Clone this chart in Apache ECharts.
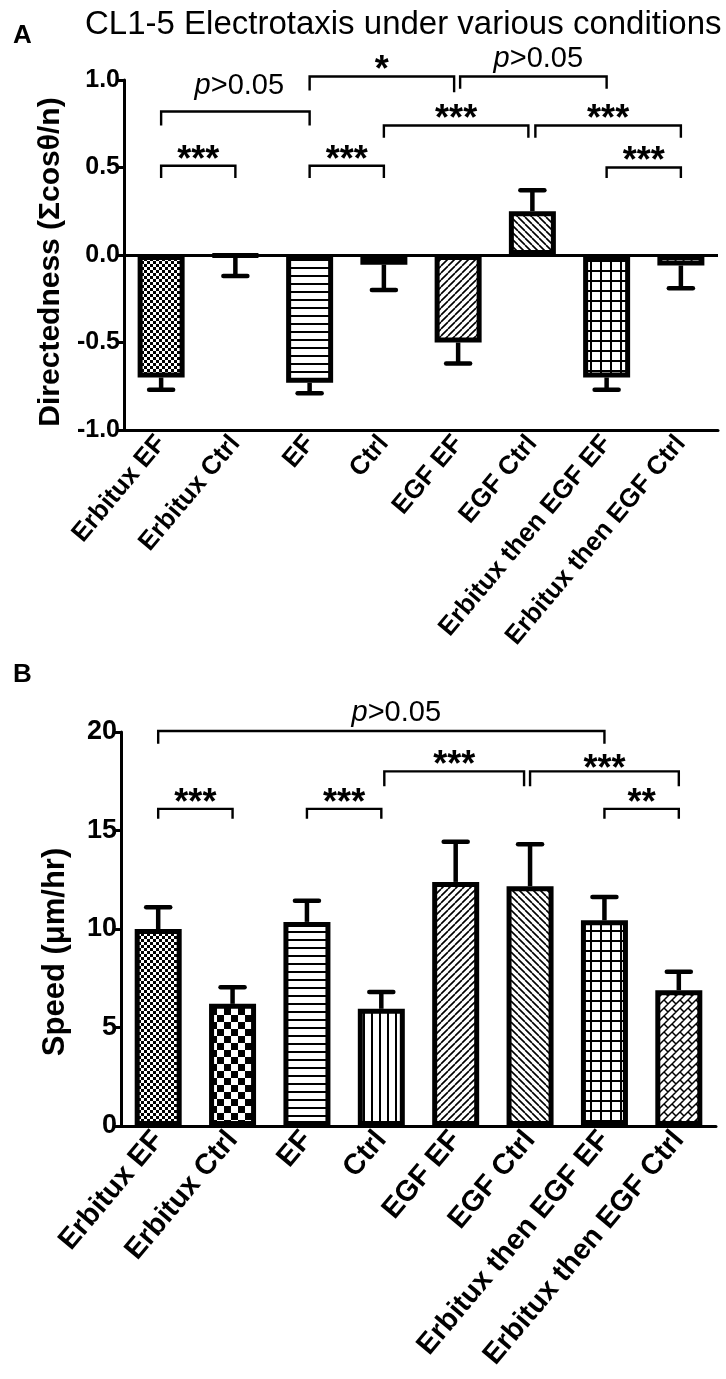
<!DOCTYPE html>
<html>
<head>
<meta charset="utf-8">
<script src="https://cdn.jsdelivr.net/npm/echarts@6/dist/echarts.min.js"></script>
<style>
  html, body { margin: 0; padding: 0; background: #fff; }
  #chart { width: 726px; height: 1379px; }
</style>
</head>
<body>
<div id="chart"></div>
<script>
// ---------------- data ----------------
const categories = ['Erbitux EF', 'Erbitux Ctrl', 'EF', 'Ctrl', 'EGF EF', 'EGF Ctrl', 'Erbitux then EGF EF', 'Erbitux then EGF Ctrl'];
const directedness = [-0.70, -0.005, -0.73, -0.055, -0.50, 0.25, -0.70, -0.06];
const directednessSEM = [0.07, 0.115, 0.06, 0.145, 0.12, 0.12, 0.07, 0.13];
const speed = [10.0, 6.2, 10.36, 5.95, 12.39, 12.17, 10.44, 6.89];
const speedSEM = [1.1, 0.84, 1.08, 0.85, 2.04, 2.13, 1.19, 0.94];

// significance brackets: from/to category index, line level, leg ends, label
const bracketsA = [
  { from: 0, to: 2, y: 0.82, l: 0.74, r: 0.74, label: 'p>0.05' },
  { from: 2, to: 4, y: 1.02, l: 0.94, r: 0.93, label: '*' },
  { from: 4, to: 6, y: 1.02, l: 0.95, r: 0.95, label: 'p>0.05' },
  { from: 3, to: 5, y: 0.74, l: 0.67, r: 0.67, label: '***' },
  { from: 5, to: 7, y: 0.74, l: 0.67, r: 0.67, label: '***' },
  { from: 0, to: 1, y: 0.51, l: 0.44, r: 0.44, label: '***' },
  { from: 2, to: 3, y: 0.51, l: 0.44, r: 0.44, label: '***' },
  { from: 6, to: 7, y: 0.50, l: 0.44, r: 0.44, label: '***' }
];
const bracketsB = [
  { from: 0, to: 6, y: 20.05, l: 19.4, r: 19.4, label: 'p>0.05' },
  { from: 3, to: 5, y: 18.0, l: 17.25, r: 17.25, label: '***' },
  { from: 5, to: 7, y: 18.0, l: 17.25, r: 17.25, label: '***' },
  { from: 0, to: 1, y: 16.1, l: 15.6, r: 15.6, label: '***' },
  { from: 2, to: 3, y: 16.1, l: 15.6, r: 15.6, label: '***' },
  { from: 6, to: 7, y: 16.1, l: 15.6, r: 15.6, label: '**' }
];

// ---------------- layout / style ----------------
const FONT = "'Liberation Sans', Arial, Helvetica, sans-serif";
// pixel nudges for bracket ends and label placement (layout only)
const bracketLayoutA = [
  { dl: 0, dr: 0, tx: 4, ty: -11 },
  { dl: 0, dr: -4, tx: 0, ty: -12 },
  { dl: 2, dr: 0, tx: 5, ty: -3 },
  { dl: 0, dr: -4, tx: 0, ty: -12 },
  { dl: 3, dr: 0, tx: 0, ty: -12 },
  { dl: 0, dr: 0, tx: 0, ty: -12 },
  { dl: 0, dr: 0, tx: 0, ty: -12 },
  { dl: 0, dr: 0, tx: 0, ty: -12 }
];
const bracketLayoutB = [
  { dl: 0, dr: 0, tx: 15, ty: -4 },
  { dl: 3, dr: -6, tx: 0, ty: -12 },
  { dl: 0, dr: 0, tx: 0, ty: -8 },
  { dl: 0, dr: 0, tx: 0, ty: -12 },
  { dl: 0, dr: 0, tx: 0, ty: -12 },
  { dl: 0, dr: 0, tx: 0, ty: -12 }
];

function makeCanvas(w, h, draw) {
  const c = document.createElement('canvas');
  c.width = w; c.height = h;
  const ctx = c.getContext('2d');
  ctx.fillStyle = '#fff';
  ctx.fillRect(0, 0, w, h);
  ctx.fillStyle = '#000';
  ctx.strokeStyle = '#000';
  draw(ctx, w, h);
  return c;
}
const patFineChecker = makeCanvas(6, 6, (ctx) => { ctx.fillRect(0, 0, 3, 3); ctx.fillRect(3, 3, 3, 3); });
const patCoarseChecker = makeCanvas(14, 14, (ctx) => { ctx.fillRect(0, 0, 7, 7); ctx.fillRect(7, 7, 7, 7); });
const patHLines = makeCanvas(8, 8, (ctx) => { ctx.fillRect(0, 3, 8, 2); });
const patVLines = makeCanvas(8, 8, (ctx) => { ctx.fillRect(3, 0, 2, 8); });
const patDiagF = makeCanvas(7, 7, (ctx, w, h) => {
  ctx.lineWidth = 1.6; ctx.beginPath();
  for (let k = -1; k <= 1; k++) { ctx.moveTo(k * w, h); ctx.lineTo(k * w + w, 0); }
  ctx.stroke();
});
const patDiagB = makeCanvas(7, 7, (ctx, w, h) => {
  ctx.lineWidth = 1.6; ctx.beginPath();
  for (let k = -1; k <= 1; k++) { ctx.moveTo(k * w, 0); ctx.lineTo(k * w + w, h); }
  ctx.stroke();
});
const patGrid = makeCanvas(10, 10, (ctx) => { ctx.fillRect(0, 0, 10, 2); ctx.fillRect(0, 0, 2, 10); });
const patBricks = makeCanvas(8, 8, (ctx, T) => {
  const L = T * Math.SQRT2, h = L / 2;
  ctx.lineWidth = 1.5;
  ctx.save();
  ctx.rotate(-Math.PI / 4);
  ctx.beginPath();
  for (let k = -4; k <= 6; k++) {
    ctx.moveTo(-60, k * h); ctx.lineTo(60, k * h);
    for (let m = -6; m <= 6; m++) {
      const u = m * L + ((k & 1) ? L / 2 : 0);
      ctx.moveTo(u, k * h); ctx.lineTo(u, (k + 1) * h);
    }
  }
  ctx.stroke();
  ctx.restore();
});
const patterns = [patFineChecker, patCoarseChecker, patHLines, patVLines, patDiagF, patDiagB, patGrid, patBricks];

function barData(values) {
  return values.map((v, i) => ({
    value: v,
    itemStyle: { color: { image: patterns[i], repeat: 'repeat' } }
  }));
}

function errRender(params, api) {
  const i = api.value(0), v = api.value(1), e = api.value(2);
  const dir = v >= 0 ? 1 : -1;
  const p0 = api.coord([i, v]);
  const p1 = api.coord([i, v + dir * e]);
  return {
    type: 'group',
    children: [
      { type: 'line', shape: { x1: p0[0], y1: p0[1], x2: p1[0], y2: p1[1] }, style: { stroke: '#000', lineWidth: 4.5 } },
      { type: 'line', shape: { x1: p1[0] - 12, y1: p1[1], x2: p1[0] + 12, y2: p1[1] }, style: { stroke: '#000', lineWidth: 4.5, lineCap: 'round' } }
    ]
  };
}

function makeBracketRender(list, layout) {
  return function (params, api) {
    const b = list[params.dataIndex];
    const lay = layout[params.dataIndex];
    const x1 = api.coord([b.from, b.y])[0] + lay.dl;
    const x2 = api.coord([b.to, b.y])[0] + lay.dr;
    const yl = api.coord([b.from, b.y])[1];
    const y1 = api.coord([b.from, b.l])[1];
    const y2 = api.coord([b.to, b.r])[1];
    const isP = b.label.charAt(0) === 'p';
    const text = isP
      ? { type: 'text', style: {
            text: '{i|p}{n|' + b.label.slice(1) + '}',
            x: (x1 + x2) / 2 + lay.tx, y: yl + lay.ty,
            align: 'center', verticalAlign: 'bottom',
            rich: {
              i: { fontFamily: FONT, fontSize: 29, fontStyle: 'italic', fill: '#000' },
              n: { fontFamily: FONT, fontSize: 29, fill: '#000' }
            }
          } }
      : { type: 'text', style: {
            text: b.label,
            x: (x1 + x2) / 2 + lay.tx, y: yl + lay.ty + 7,
            align: 'center', verticalAlign: 'middle',
            fontFamily: FONT, fontSize: 36, fontWeight: 'bold', fill: '#000'
          } };
    return {
      type: 'group',
      children: [
        { type: 'polyline', shape: { points: [[x1, y1], [x1, yl], [x2, yl], [x2, y2]] },
          style: { stroke: '#000', lineWidth: 2.4, fill: null } },
        text
      ]
    };
  };
}

const axisLabelStyle = { color: '#000', fontFamily: FONT, fontWeight: 'bold' };

const chart = echarts.init(document.getElementById('chart'), null, { renderer: 'canvas' });
chart.setOption({
  animation: false,
  backgroundColor: '#fff',
  title: [
    { text: 'CL1-5 Electrotaxis under various conditions', left: 80, top: 3,
      textStyle: { fontFamily: FONT, fontSize: 33, fontWeight: 'normal', color: '#000' } },
    { text: 'A', left: 8, top: 18, textStyle: { fontFamily: FONT, fontSize: 26, fontWeight: 'bold', color: '#000' } },
    { text: 'B', left: 8, top: 657, textStyle: { fontFamily: FONT, fontSize: 26, fontWeight: 'bold', color: '#000' } }
  ],
  grid: [
    { left: 124, right: 8, top: 80, height: 350 },
    { left: 121, right: 10, top: 732, height: 394 }
  ],
  xAxis: [0, 1].map((g) => ({
    type: 'category', gridIndex: g, data: categories,
    axisLine: { onZero: false, lineStyle: { color: '#000', width: 3 } },
    axisTick: { alignWithLabel: true, inside: true, length: 10, lineStyle: { color: '#000', width: 3 } },
    axisLabel: Object.assign({ rotate: 50, interval: 0, margin: 9, fontSize: g === 0 ? 26 : 29 }, axisLabelStyle),
    splitLine: { show: false }
  })),
  yAxis: [
    { type: 'value', gridIndex: 0, min: -1, max: 1, interval: 0.5,
      name: 'Directedness (Σcosθ/n)', nameLocation: 'middle', nameGap: 43,
      nameTextStyle: { fontFamily: FONT, fontSize: 30, fontWeight: 'bold', color: '#000', padding: [0, 14, 0, 0] },
      axisLine: { show: true, lineStyle: { color: '#000', width: 3 } },
      axisTick: { show: true, length: 8, lineStyle: { color: '#000', width: 3 } },
      axisLabel: Object.assign({ fontSize: 25, margin: 4, formatter: (v) => v.toFixed(1) }, axisLabelStyle),
      splitLine: { show: false } },
    { type: 'value', gridIndex: 1, min: 0, max: 20, interval: 5,
      name: 'Speed (μm/hr)', nameLocation: 'middle', nameGap: 50,
      nameTextStyle: { fontFamily: FONT, fontSize: 31, fontWeight: 'bold', color: '#000', padding: [0, 46, 0, 0] },
      axisLine: { show: true, lineStyle: { color: '#000', width: 3 } },
      axisTick: { show: true, length: 8, lineStyle: { color: '#000', width: 3 } },
      axisLabel: Object.assign({ fontSize: 27, margin: 4 }, axisLabelStyle),
      splitLine: { show: false } }
  ],
  series: [
    { type: 'custom', name: 'semA', xAxisIndex: 0, yAxisIndex: 0, z: 1,
      data: categories.map((c, i) => [i, directedness[i], directednessSEM[i]]),
      renderItem: errRender },
    { type: 'bar', name: 'directedness', xAxisIndex: 0, yAxisIndex: 0, z: 2,
      barWidth: 47, data: barData(directedness),
      itemStyle: { borderColor: '#000', borderWidth: 5 },
      markLine: { silent: true, symbol: ['none', 'none'], label: { show: false },
        lineStyle: { color: '#000', width: 3, type: 'solid' }, data: [{ yAxis: 0 }] } },
    { type: 'custom', name: 'bracketsA', xAxisIndex: 0, yAxisIndex: 0, z: 3,
      data: bracketsA.map((b) => [b.from, b.y]),
      renderItem: makeBracketRender(bracketsA, bracketLayoutA) },
    { type: 'custom', name: 'semB', xAxisIndex: 1, yAxisIndex: 1, z: 1,
      data: categories.map((c, i) => [i, speed[i], speedSEM[i]]),
      renderItem: errRender },
    { type: 'bar', name: 'speed', xAxisIndex: 1, yAxisIndex: 1, z: 2,
      barWidth: 47, data: barData(speed),
      itemStyle: { borderColor: '#000', borderWidth: 5 } },
    { type: 'custom', name: 'bracketsB', xAxisIndex: 1, yAxisIndex: 1, z: 3,
      data: bracketsB.map((b) => [b.from, b.y]),
      renderItem: makeBracketRender(bracketsB, bracketLayoutB) }
  ]
});
</script>
</body>
</html>
